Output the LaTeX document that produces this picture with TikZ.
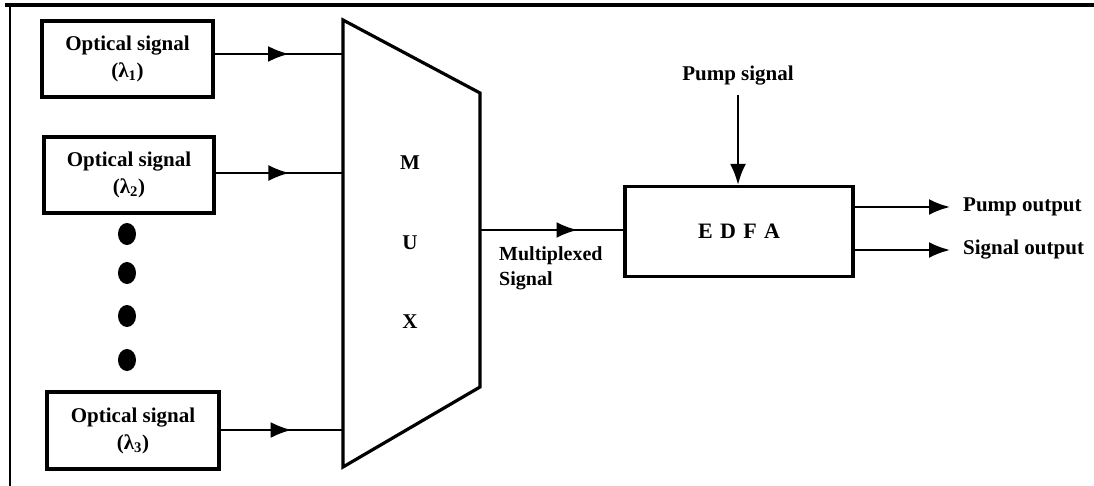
\documentclass[tikz,border=0pt]{standalone}
\usepackage{fontspec}
\setmainfont{Liberation Serif}
\usetikzlibrary{arrows.meta,decorations.markings,shapes.geometric}
\begin{document}
\begin{tikzpicture}[x=1pt,y=-1pt,
 box/.style={draw,line width=3.2pt,inner sep=0pt,align=center,font=\fontsize{21}{27}\selectfont\bfseries},
 lbl/.style={inner sep=0pt,font=\fontsize{21}{25}\selectfont\bfseries},
 conn/.style={line width=2.6pt},
 midarrow/.style={conn,postaction={decorate},decoration={markings,mark=at position #1 with {\arrow{Latex[length=21pt,width=16pt]}}}},
 endarrow/.style={conn,-{Latex[length=21pt,width=16pt]}},
 dotmark/.style={fill,ellipse,minimum width=18pt,minimum height=22pt,inner sep=0pt}
]
\useasboundingbox (0,0) rectangle (1094,486);
% frame
\draw[line width=4pt] (5,5) -- (1094,5);
\draw[line width=1.2pt] (10,5) -- (10,486);

% input boxes
\node[box,minimum width=171pt,minimum height=76pt] (b1) at (127.5,59) {Optical signal\\(λ\textsubscript{1})};
\node[box,minimum width=170pt,minimum height=76pt] (b2) at (129,175) {Optical signal\\(λ\textsubscript{2})};
\node[box,minimum width=172pt,minimum height=77pt] (b3) at (133,430.5) {Optical signal\\(λ\textsubscript{3})};

% dots
\node[dotmark] (d1) at (127,234) {};
\node[dotmark] (d2) at (127,273) {};
\node[dotmark] (d3) at (127,316) {};
\node[dotmark] (d4) at (127,360) {};

% MUX trapezoid
\coordinate (mtl) at (343,20);
\coordinate (mbl) at (343,467);
\coordinate (mtr) at (480,93);
\coordinate (mbr) at (480,387);
\draw[line width=3.2pt,line join=miter] (mtl) -- (mtr) -- (mbr) -- (mbl) -- cycle;
\node[lbl] (mM) at (410,163) {M};
\node[lbl] (mU) at (410,243) {U};
\node[lbl] (mX) at (410,322) {X};
\coordinate (m1) at (343,54);
\coordinate (m2) at (343,173);
\coordinate (m3) at (343,430);
\coordinate (mo) at (480,230);

\draw[midarrow=0.58] (b1.east |- m1) -- (m1);
\draw[midarrow=0.58] (b2.east |- m2) -- (m2);
\draw[midarrow=0.58] (b3.east |- m3) -- (m3);

% EDFA
\node[box,minimum width=228pt,minimum height=90pt,font=\fontsize{22}{26}\selectfont\bfseries] (edfa) at (739,231.5) {E\,\,D\,\,F\,\,A};
\draw[midarrow=0.68] (mo) -- (edfa.west |- mo);
\node[lbl,align=left,anchor=west,font=\fontsize{20}{25}\selectfont\bfseries] (mux) at (499,268) {Multiplexed\\Signal};

% pump
\node[lbl] (pump) at (738,76) {Pump signal};
\draw[endarrow] (pump.south |- 0,95) -- (edfa.north -| pump.south);

% outputs
\coordinate (po) at (950,207);
\coordinate (so) at (950,250);
\draw[endarrow] (edfa.east |- po) -- (po);
\draw[endarrow] (edfa.east |- so) -- (so);
\node[lbl,anchor=west] (pol) at (963,207) {Pump output};
\node[lbl,anchor=west] (sol) at (963,250) {Signal output};
\end{tikzpicture}
\end{document}
